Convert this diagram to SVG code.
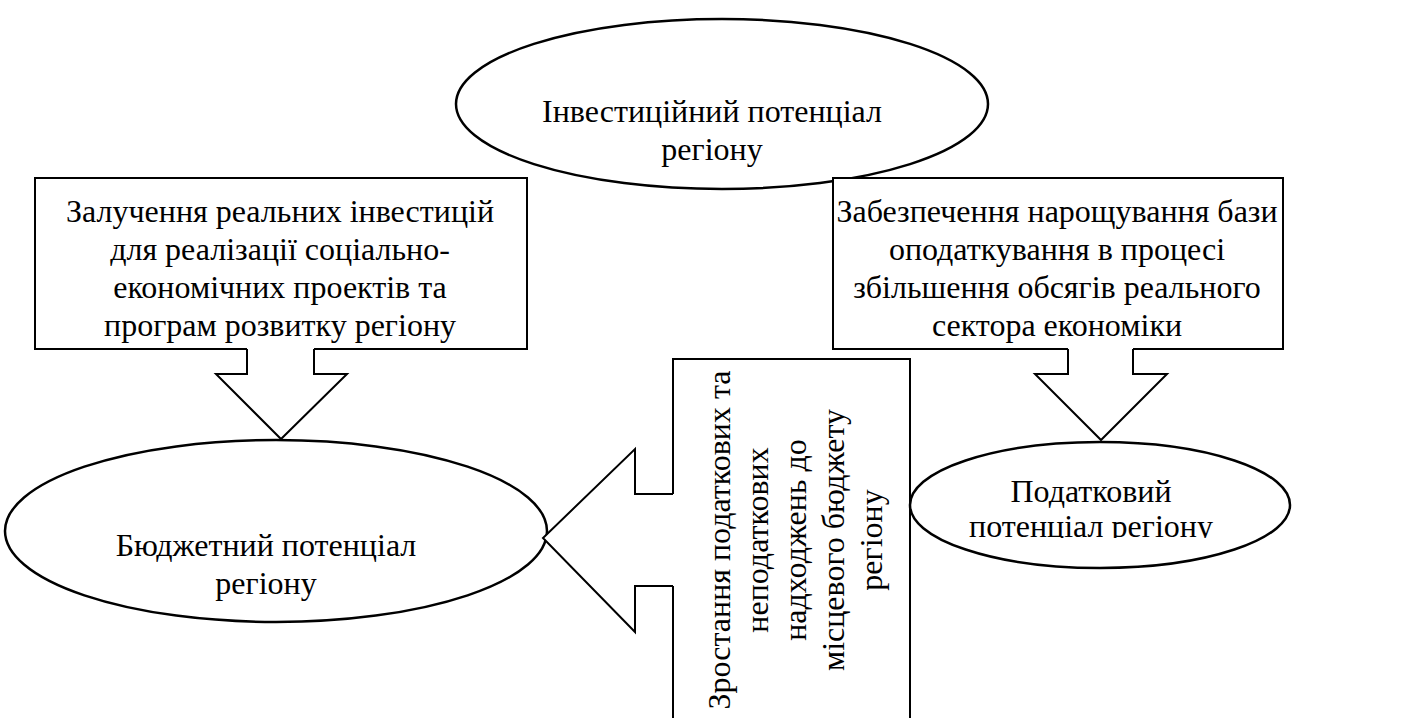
<svg xmlns="http://www.w3.org/2000/svg" width="1410" height="718" viewBox="0 0 1410 718">
<style>
.sh{fill:#fff;stroke:#000;stroke-width:2}
.el{fill:#fff;stroke:#000;stroke-width:2.5}
.ar{fill:#fff;stroke:#000;stroke-width:2}
.t{font-family:"Liberation Serif","Times New Roman",serif;font-size:32px;fill:#000;text-anchor:middle}
</style>
<defs>
<clipPath id="clipR"><rect x="900" y="430" width="400" height="108"/></clipPath>
</defs>
<rect width="1410" height="718" fill="#fff"/>
<g id="invest">
<ellipse class="el" cx="722" cy="104" rx="266" ry="85"/>
<text class="t"><tspan x="712" y="122">Інвестиційний потенціал</tspan><tspan x="712" y="160">регіону</tspan></text>
</g>
<g id="zaluch">
<path class="sh" d="M247,349 H35 V178 H527 V349 H314"/>
<text class="t"><tspan x="280" y="222">Залучення реальних інвестицій</tspan><tspan x="280" y="260">для реалізації соціально-</tspan><tspan x="280" y="298">економічних проектів та</tspan><tspan x="280" y="336">програм розвитку регіону</tspan></text>
</g>
<g id="zabezp">
<path class="sh" d="M1068,349 H833 V178 H1283 V349 H1133"/>
<text class="t"><tspan x="1057" y="222">Забезпечення нарощування бази</tspan><tspan x="1057" y="260">оподаткування в процесі</tspan><tspan x="1057" y="298">збільшення обсягів реального</tspan><tspan x="1057" y="336">сектора економіки</tspan></text>
</g>
<g id="zrost">
<path class="sh" d="M673,494 V359 H910 V725 H673 V586"/>
<g transform="translate(791,540) rotate(-90)">
<text class="t"><tspan x="0" y="-61">Зростання податкових та</tspan><tspan x="0" y="-23">неподаткових</tspan><tspan x="0" y="15">надходжень до</tspan><tspan x="0" y="53">місцевого бюджету</tspan><tspan x="0" y="91">регіону</tspan></text>
</g>
</g>
<g id="budget">
<ellipse class="el" cx="276" cy="531" rx="271" ry="91"/>
<text class="t"><tspan x="266" y="556">Бюджетний потенціал</tspan><tspan x="266" y="594">регіону</tspan></text>
</g>
<g id="podat">
<ellipse class="el" cx="1100" cy="505" rx="190" ry="63"/>
<text class="t" clip-path="url(#clipR)"><tspan x="1091" y="502">Податковий</tspan><tspan x="1091" y="537">потенціал регіону</tspan></text>
</g>
<g id="connectors">
<path class="ar" d="M247,349 V374 H216 L281,439 L347,374 H314 V349"/>
<path class="ar" d="M1068,349 V374 H1035 L1101,440 L1167,374 H1133 V349"/>
<path class="ar" d="M673,494 H635 V449 L543,538 L635,632 V586 H673"/>
</g>
</svg>
